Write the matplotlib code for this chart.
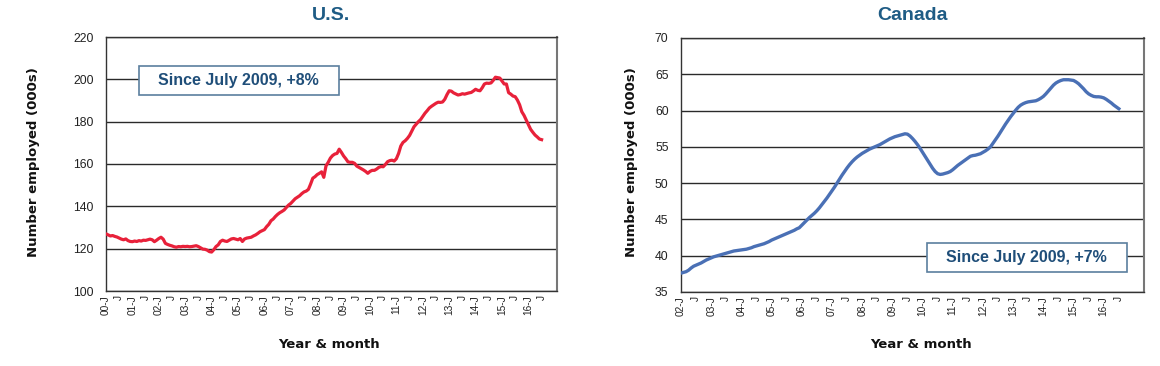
import matplotlib
matplotlib.use("Agg")
import matplotlib.pyplot as plt
from matplotlib.patches import Rectangle
import numpy as np

# ---------------- data ----------------
# U.S. monthly employment (000s), Jan 2000 .. Jul 2016
us_values = [
    127.0, 126.5, 126.0, 126.2, 125.8, 125.5, 125.0, 124.5, 124.2, 124.6, 123.8, 123.4,   # 2000
    123.3, 123.6, 123.4, 123.8, 123.6, 124.0, 123.9, 124.2, 124.5, 124.2, 123.3, 124.0,   # 2001
    124.8, 125.4, 124.5, 122.5, 122.0, 121.6, 121.3, 120.9, 120.7, 121.0, 120.9, 121.1,   # 2002
    121.0, 121.1, 120.9, 121.0, 121.2, 121.4, 121.0, 120.4, 119.8, 119.7, 119.3, 118.6,   # 2003
    118.4, 119.5, 121.0, 121.8, 123.4, 124.0, 123.6, 123.4, 124.0, 124.6, 124.8, 124.5,   # 2004
    124.2, 124.8, 123.4, 124.6, 125.0, 125.2, 125.4, 126.0, 126.5, 127.2, 128.0, 128.5,   # 2005
    129.0, 130.4, 131.5, 133.2, 134.0, 135.2, 136.2, 137.0, 137.6, 138.3, 139.5, 140.6,   # 2006
    141.4, 142.5, 143.6, 144.3, 145.0, 146.0, 146.8, 147.2, 148.0, 150.5, 153.3, 154.0,   # 2007
    155.0, 155.6, 156.3, 153.7, 159.1, 160.8, 162.8, 164.0, 164.7, 165.0, 167.0, 165.5,   # 2008
    163.8, 162.5, 161.0, 160.8, 160.8, 160.3, 159.0, 158.4, 157.8, 157.2, 156.5, 155.6,   # 2009
    156.5, 157.0, 157.0, 157.6, 158.4, 158.8, 158.7, 159.8, 161.1, 161.6, 161.8, 161.4,   # 2010
    162.5, 165.0, 168.5, 170.2, 171.0, 172.1, 173.5, 175.5, 177.6, 178.8, 180.0, 181.0,   # 2011
    182.5, 184.0, 185.2, 186.5, 187.3, 188.0, 188.7, 189.2, 189.1, 189.3, 190.6, 192.8,   # 2012
    194.6, 194.4, 193.6, 193.1, 192.6, 192.8, 193.2, 193.0, 193.3, 193.6, 193.8, 194.5,   # 2013
    195.3, 194.8, 194.6, 196.0, 197.8, 198.2, 198.1, 198.3, 199.5, 201.0, 200.8, 200.6,   # 2014
    199.2, 197.8, 197.8, 193.7, 193.0, 192.1, 191.8, 190.2, 188.0, 184.7, 183.0, 180.8,   # 2015
    178.6, 176.4, 175.0, 173.7, 172.8, 171.8, 171.5,                                      # 2016
]

# Canada monthly employment (000s), Jan 2002 .. Jul 2016
ca_values = [
    37.6, 37.7, 37.8, 38.0, 38.3, 38.55, 38.7, 38.85, 39.0, 39.2, 39.4, 39.55,            # 2002
    39.7, 39.85, 39.95, 40.05, 40.15, 40.25, 40.35, 40.45, 40.55, 40.65, 40.7, 40.75,     # 2003
    40.8, 40.85, 40.9, 41.0, 41.1, 41.25, 41.35, 41.45, 41.55, 41.65, 41.8, 41.95,        # 2004
    42.15, 42.3, 42.45, 42.6, 42.75, 42.9, 43.05, 43.2, 43.35, 43.5, 43.7, 43.85,         # 2005
    44.2, 44.55, 44.9, 45.25, 45.55, 45.85, 46.2, 46.6, 47.05, 47.5, 47.95, 48.45,        # 2006
    48.95, 49.45, 50.0, 50.55, 51.1, 51.6, 52.1, 52.55, 52.95, 53.3, 53.6, 53.85,         # 2007
    54.1, 54.3, 54.5, 54.7, 54.85, 55.0, 55.15, 55.3, 55.5, 55.7, 55.9, 56.1,             # 2008
    56.25, 56.4, 56.5, 56.6, 56.7, 56.8, 56.75, 56.5, 56.15, 55.75, 55.3, 54.8,           # 2009
    54.25, 53.7, 53.15, 52.6, 52.05, 51.6, 51.3, 51.2, 51.25, 51.35, 51.45, 51.6,         # 2010
    51.85, 52.15, 52.45, 52.7, 52.95, 53.2, 53.45, 53.7, 53.8, 53.85, 53.95, 54.05,       # 2011
    54.25, 54.45, 54.7, 55.0, 55.5, 56.0, 56.5, 57.05, 57.6, 58.15, 58.65, 59.15,         # 2012
    59.6, 60.05, 60.45, 60.75, 60.95, 61.1, 61.2, 61.25, 61.3, 61.35, 61.5, 61.7,         # 2013
    61.95, 62.3, 62.7, 63.1, 63.5, 63.8, 64.0, 64.15, 64.25, 64.25, 64.25, 64.2,          # 2014
    64.15, 63.95, 63.7, 63.35, 63.0, 62.6, 62.3, 62.1, 61.95, 61.9, 61.9, 61.85,          # 2015
    61.75, 61.55, 61.3, 61.05, 60.75, 60.5, 60.25,                                        # 2016
]

us_years = list(range(2000, 2017))
ca_years = list(range(2002, 2017))
us_note = "Since July 2009, +8%"
ca_note = "Since July 2009, +7%"


def tick_labels(years):
    labels = []
    for y in years:
        labels.append(f"{y % 100:02d}-J")
        labels.append("J")
    return labels


# ---------------- style ----------------
TITLE_COL = "#1F5C85"
NOTE_COL = "#1F4E79"
GRID_COL = "#2a2a2a"

fig = plt.figure(figsize=(11.6, 3.66), dpi=100)
W, H = 1160, 366


def px_axes(l, t, r, b):
    return fig.add_axes([l / W, 1 - b / H, (r - l) / W, (b - t) / H])


def setup(ax, values, years, ylim, yticks, xmax, title, note, note_box, title_x):
    x = np.arange(len(values))
    ax.set_xlim(0, xmax)
    ax.set_ylim(*ylim)
    ax.set_yticks(yticks)
    ax.yaxis.grid(True, color=GRID_COL, lw=1.0)
    ax.set_axisbelow(True)
    xt = np.arange(0, len(years) * 12, 6)
    ax.set_xticks(xt)
    ax.set_xticklabels(tick_labels(years), rotation=90, fontsize=7.3,
                       family="Liberation Sans", color="#222222")
    for lab in ax.get_yticklabels():
        lab.set_fontsize(8.8)
        lab.set_family("Liberation Sans")
        lab.set_color("#222222")
    ax.tick_params(axis="y", length=0, pad=9)
    ax.tick_params(axis="x", length=0, pad=3)
    for s in ax.spines.values():
        s.set_color("#333333")
        s.set_linewidth(1.0)
    ax.spines["right"].set_color("#777777")
    ax.spines["right"].set_linewidth(1.5)
    # annotation box
    bx, by, bw, bh = note_box
    rect = Rectangle((bx, by), bw, bh, transform=ax.transAxes, facecolor="white",
                     edgecolor="#5B7F9E", lw=1.2, zorder=3)
    ax.add_patch(rect)
    ax.text(bx + bw / 2, by + bh / 2, note, transform=ax.transAxes, ha="center",
            va="center", fontsize=11.5, fontweight="bold", color=NOTE_COL,
            family="Liberation Sans", zorder=4)
    fig.text(title_x / W, 1 - 16 / H, title, ha="center", va="center",
             fontsize=14, fontweight="bold", color=TITLE_COL, family="Liberation Sans")
    return x


# U.S.
ax1 = px_axes(106, 37, 557, 291)
x1 = setup(ax1, us_values, us_years, (100, 220), [100, 120, 140, 160, 180, 200, 220],
           205, "U.S.", us_note, (0.073, 0.772, 0.443, 0.114), 331)
ax1.plot(x1, us_values, color="#E8213A", lw=2.3, zorder=5)

# Canada
ax2 = px_axes(681, 38, 1144, 292)
x2 = setup(ax2, ca_values, ca_years, (35, 70), [35, 40, 45, 50, 55, 60, 65, 70],
           184, "Canada", ca_note, (0.531, 0.079, 0.432, 0.114), 912)
ax2.plot(x2, ca_values, color="#4A70B5", lw=2.4, zorder=5)

# axis labels
for xl, xc in [(34, 329), (631, 921)]:
    fig.text(xl / W, 1 - 162 / H, "Number employed (000s)", rotation=90,
             ha="center", va="center", fontsize=9.5, fontweight="bold", color="#111111")
    fig.text(xc / W, 1 - 345 / H, "Year & month", ha="center", va="center",
             fontsize=9.5, fontweight="bold", color="#111111")

fig.savefig("out.png", dpi=100, facecolor="white")
